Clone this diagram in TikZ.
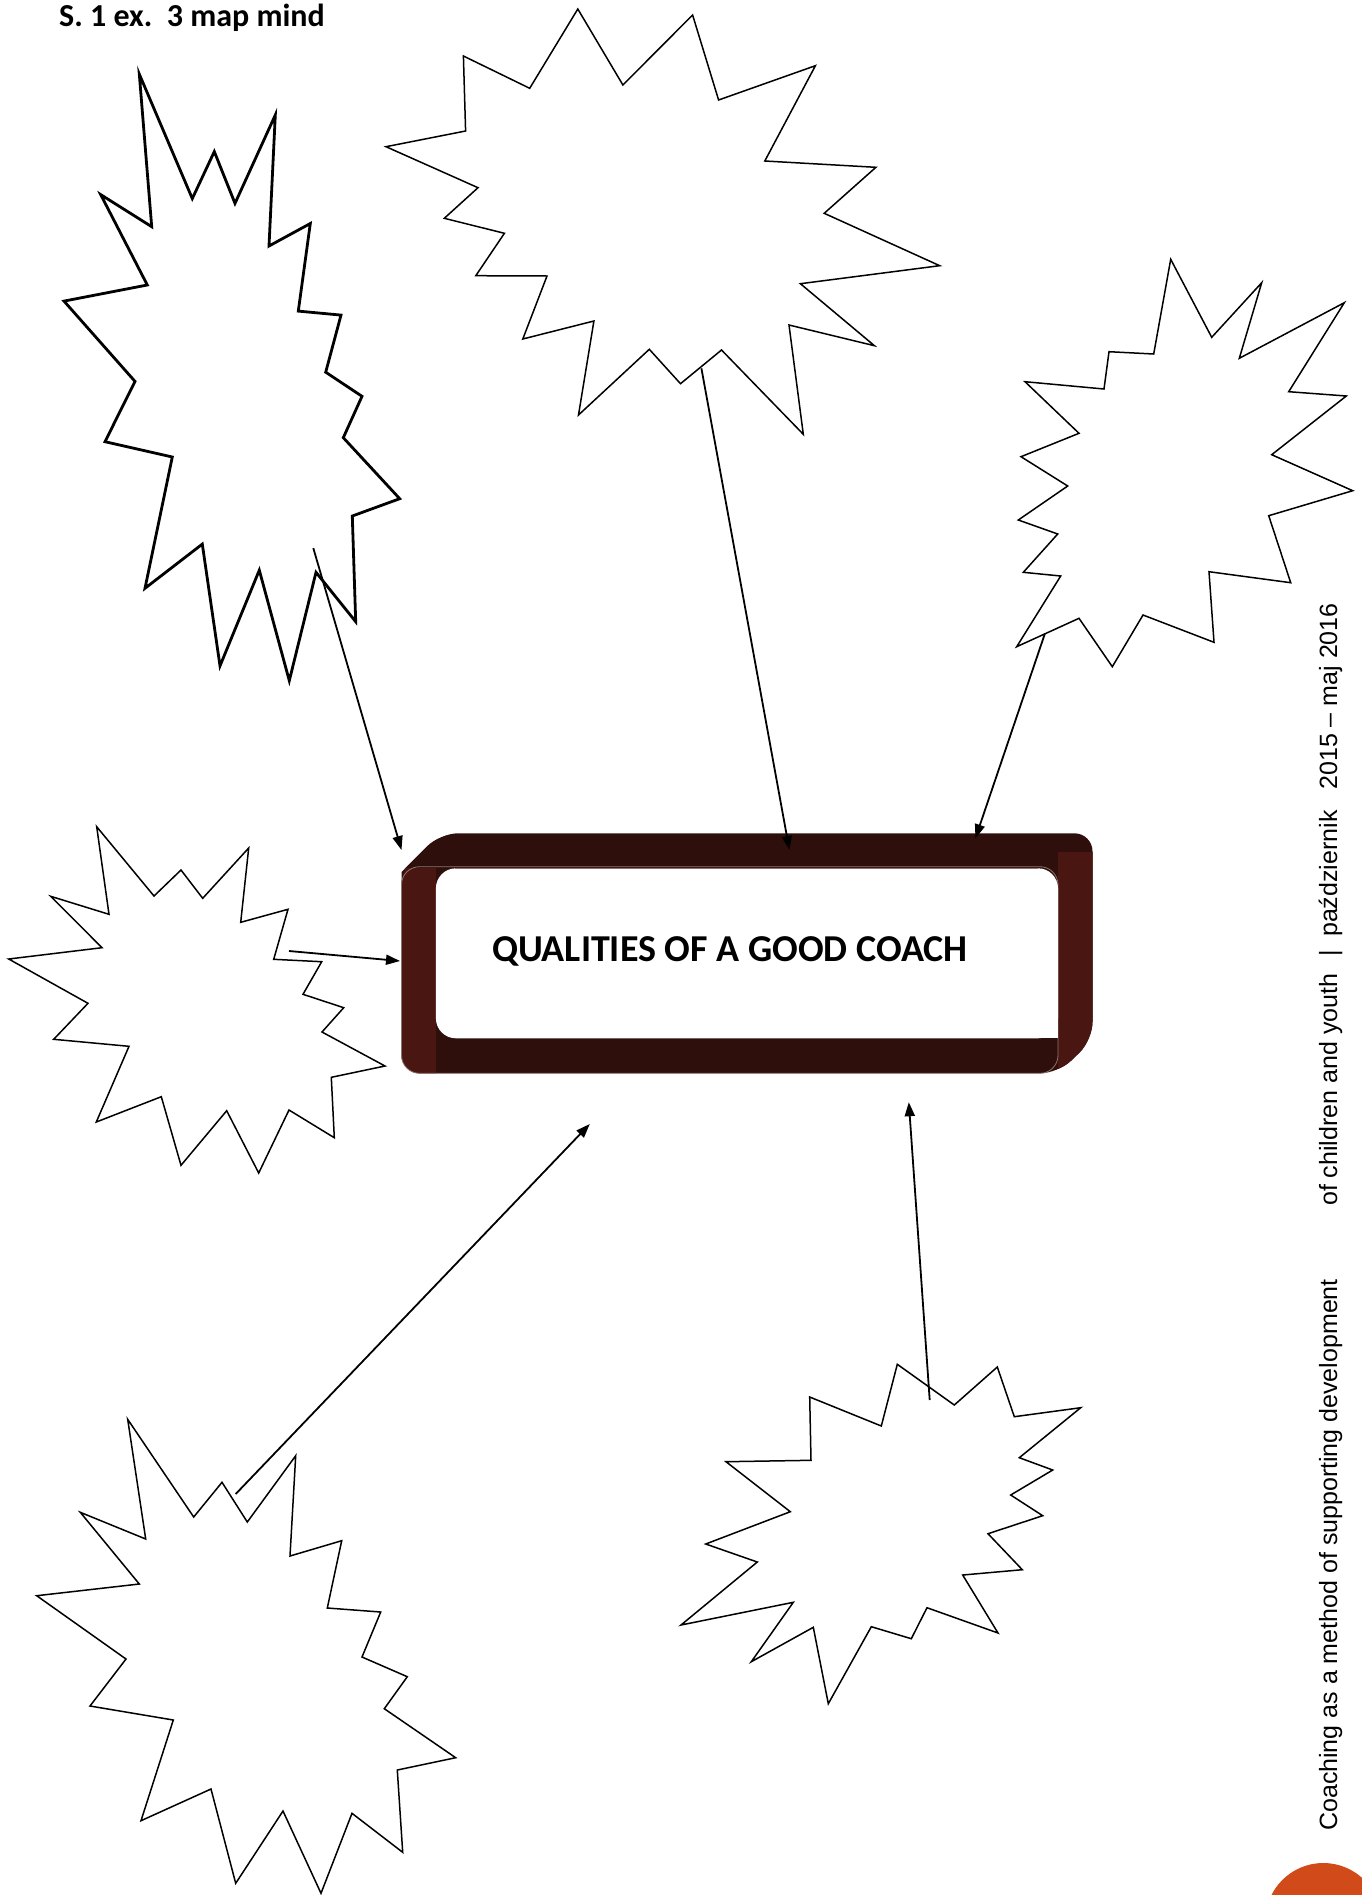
\documentclass[tikz,border=0pt]{standalone}
\usepackage{fontspec}
\setmainfont{Carlito}
\newfontfamily\footfont{Liberation Sans}
\usetikzlibrary{arrows.meta}
\definecolor{cframe}{HTML}{2E0F0B}
\definecolor{cside}{HTML}{4A1611}
\definecolor{crim}{HTML}{8E7470}
\definecolor{corange}{HTML}{D14A19}
\tikzset{
  every picture/.style={line join=miter},
  burst/.style={draw=black, fill=white, line width=1.5pt},
  arrow/.style={-{Triangle[length=14pt, width=10pt]}, draw=black, line width=1.8pt},
  heading/.style={font=\fontsize{32}{38}\selectfont\bfseries, anchor=base west, inner sep=0pt},
  footer/.style={font=\footfont\fontsize{25}{30}\selectfont, rotate=90, anchor=base west, inner sep=0pt},
}

\begin{document}
\begin{tikzpicture}[x=1pt, y=-1pt]
  \useasboundingbox (0,0) rectangle (1362,1895);
  \node[heading] (head) at (59,26.7) {S. 1 ex.~~3 map mind};

  % bursts
  \draw[burst, line width=2.8pt] (139.3,74.1) -- (192.3,198.6) -- (214.3,151.6) -- (235,203.4) -- (275.3,115) -- (269,246) -- (310.3,223.5) -- (298.3,311.1) -- (341,315.1) -- (325.7,372.2) -- (362,396.3) -- (343.3,437.7) -- (399.7,498.7) -- (352.3,516) -- (355.7,621.7) -- (316,572.3) -- (289.3,680.7) -- (259.3,570.2) -- (220,665.9) -- (202.3,544.1) -- (145,588.3) -- (172.3,457) -- (105,441.7) -- (135,381.4) -- (64,301.1) -- (147.3,285) -- (100.7,194.6) -- (151.7,226.7) -- cycle;
  \draw[burst] (577.8,9) -- (622.9,85) -- (692.6,15) -- (718.6,100) -- (815.4,65.7) -- (764.8,161) -- (875.9,167.3) -- (824.2,213.3) -- (939.7,265.7) -- (800.4,283.7) -- (874.4,345.7) -- (789,325) -- (803.3,434.3) -- (721.5,350) -- (680.5,383.7) -- (649.3,349.3) -- (578.5,415) -- (593.9,321) -- (522.8,339) -- (547,276) -- (475.8,275.7) -- (504.4,233.3) -- (444.3,218.3) -- (478,187.7) -- (386,146.7) -- (465.6,131) -- (463.4,56) -- (529.7,88.3) -- cycle;
  \draw[burst] (1170.7,259.3) -- (1211.7,337.3) -- (1261.7,282.7) -- (1239.3,358.3) -- (1344.3,302.7) -- (1288.7,391.7) -- (1346.3,396) -- (1271.7,454.7) -- (1352.7,490.7) -- (1268.7,515.7) -- (1290.7,582.7) -- (1209,571.7) -- (1214,642.3) -- (1143,615) -- (1112.3,666.7) -- (1079,618.3) -- (1016.7,646.7) -- (1060.7,576) -- (1023.3,572.3) -- (1057.7,534) -- (1018.3,520) -- (1067.7,486) -- (1021,456.7) -- (1079,433.3) -- (1025,381.7) -- (1104,389) -- (1109,351.7) -- (1153.7,354) -- cycle;
  \draw[burst] (96.7,826.7) -- (154,896) -- (181,870) -- (202.7,898.3) -- (248.7,848) -- (240.7,922.3) -- (288,909.3) -- (273.7,959.3) -- (321.7,961.7) -- (303,994.3) -- (343.7,1007.7) -- (322,1032) -- (385,1066) -- (331.3,1077.3) -- (334.3,1137.7) -- (289,1110) -- (258.7,1173) -- (226.7,1110.7) -- (181,1165.3) -- (161.3,1096.7) -- (96.3,1122) -- (129,1046.3) -- (53.7,1039.3) -- (88,1003.3) -- (8.7,959) -- (102,947.7) -- (50.7,896.3) -- (109,914.3) -- cycle;
  \draw[burst] (127.7,1419.3) -- (193.7,1517) -- (222,1482.3) -- (247.3,1522) -- (295.7,1455.7) -- (290,1556) -- (341.7,1540.7) -- (327.3,1608) -- (380.7,1612) -- (362,1657) -- (407.3,1676.7) -- (384.3,1708.7) -- (455.7,1757.7) -- (397.3,1770) -- (402.7,1852.3) -- (352,1813.3) -- (321,1893.3) -- (283,1811) -- (235.7,1883.3) -- (211,1789) -- (141,1820.7) -- (173.3,1720) -- (90,1706) -- (126,1659) -- (36.7,1595.7) -- (139.3,1584) -- (80.3,1512.3) -- (145.7,1539) -- cycle;
  \draw[burst] (897.3,1364.3) -- (954.3,1405) -- (997.3,1367) -- (1014.3,1416.7) -- (1080.7,1407.7) -- (1019.3,1457.7) -- (1052.7,1470) -- (1010.7,1495) -- (1042.7,1515.7) -- (988,1533.7) -- (1022.3,1569.7) -- (962.7,1575) -- (998,1633) -- (927,1607.7) -- (911.3,1638.7) -- (871.3,1626.7) -- (828.3,1703.7) -- (813.3,1627.3) -- (751.3,1661.7) -- (793.3,1602.3) -- (681,1625) -- (757.3,1562) -- (705.7,1544) -- (790.3,1511.7) -- (726,1461.7) -- (811,1460.3) -- (809.7,1397) -- (881.3,1426) -- cycle;

  % frame round the title
  \fill[cframe, rounded corners=18pt] (401.5,1073.3) -- (1058,1073.3) -- (1092.5,1040) -- (1092.5,833.3) -- (440,833.3) [sharp corners] -- (401.5,872) [rounded corners=18pt] -- cycle;
  \begin{scope}
    \clip[rounded corners=18pt] (401.5,1073.3) -- (1058,1073.3) -- (1092.5,1040) -- (1092.5,833.3) -- (435.9,833.3) -- (401.5,866.7) -- cycle;
    \fill[cside] (395,868) rectangle (435.9,1080);
    \fill[cside] (1058,852) rectangle (1100,1080);
  \end{scope}
  \draw[crim, line width=0.8pt, rounded corners=18pt] (401.5,866.7) rectangle (1058,1073.3);
  \fill[white, rounded corners=20pt] (435.9,868.3) rectangle (1058,1038.3);
  \fill[white] (1020,1000) rectangle (1058,1038.3);
  \draw[crim, line width=0.8pt] (455,868.3) -- (1038,868.3);
  \node[font=\fontsize{38}{45}\selectfont\bfseries, anchor=base] (coach) at (730,961.7) {QUALITIES OF A GOOD COACH};

  % arrows from the bursts
  \coordinate (s1) at (313.3,548.1);  \coordinate (t1) at (401.5,850);
  \coordinate (s2) at (701.4,368.3);  \coordinate (t2) at (789.4,850);
  \coordinate (s3) at (1045,633.3);   \coordinate (t3) at (975.4,838.3);
  \coordinate (s4) at (289,951);      \coordinate (t4) at (400,961);
  \coordinate (s5) at (235.7,1494);   \coordinate (t5) at (589.8,1124);
  \coordinate (s6) at (929.7,1400);   \coordinate (t6) at (908.8,1102.2);
  \draw[arrow] (s1) -- (t1);
  \draw[arrow] (s2) -- (t2);
  \draw[arrow] (s3) -- (t3);
  \draw[arrow] (s4) -- (t4);
  \draw[arrow] (s5) -- (t5);
  \draw[arrow] (s6) -- (t6);

  % side footer
  \node[footer] (foot1) at (1337,1831) {Coaching as a method of supporting development};
  \node[footer] (foot2) at (1337,1206) {of children and youth};
  \node[footer, anchor=base] (bar) at (1337,953) {|};
  \node[footer] (foot3) at (1337,937) {październik~~~2015~–~maj 2016};
  \fill[corange] (1323.3,1921) circle[radius=58];
\end{tikzpicture}
\end{document}
